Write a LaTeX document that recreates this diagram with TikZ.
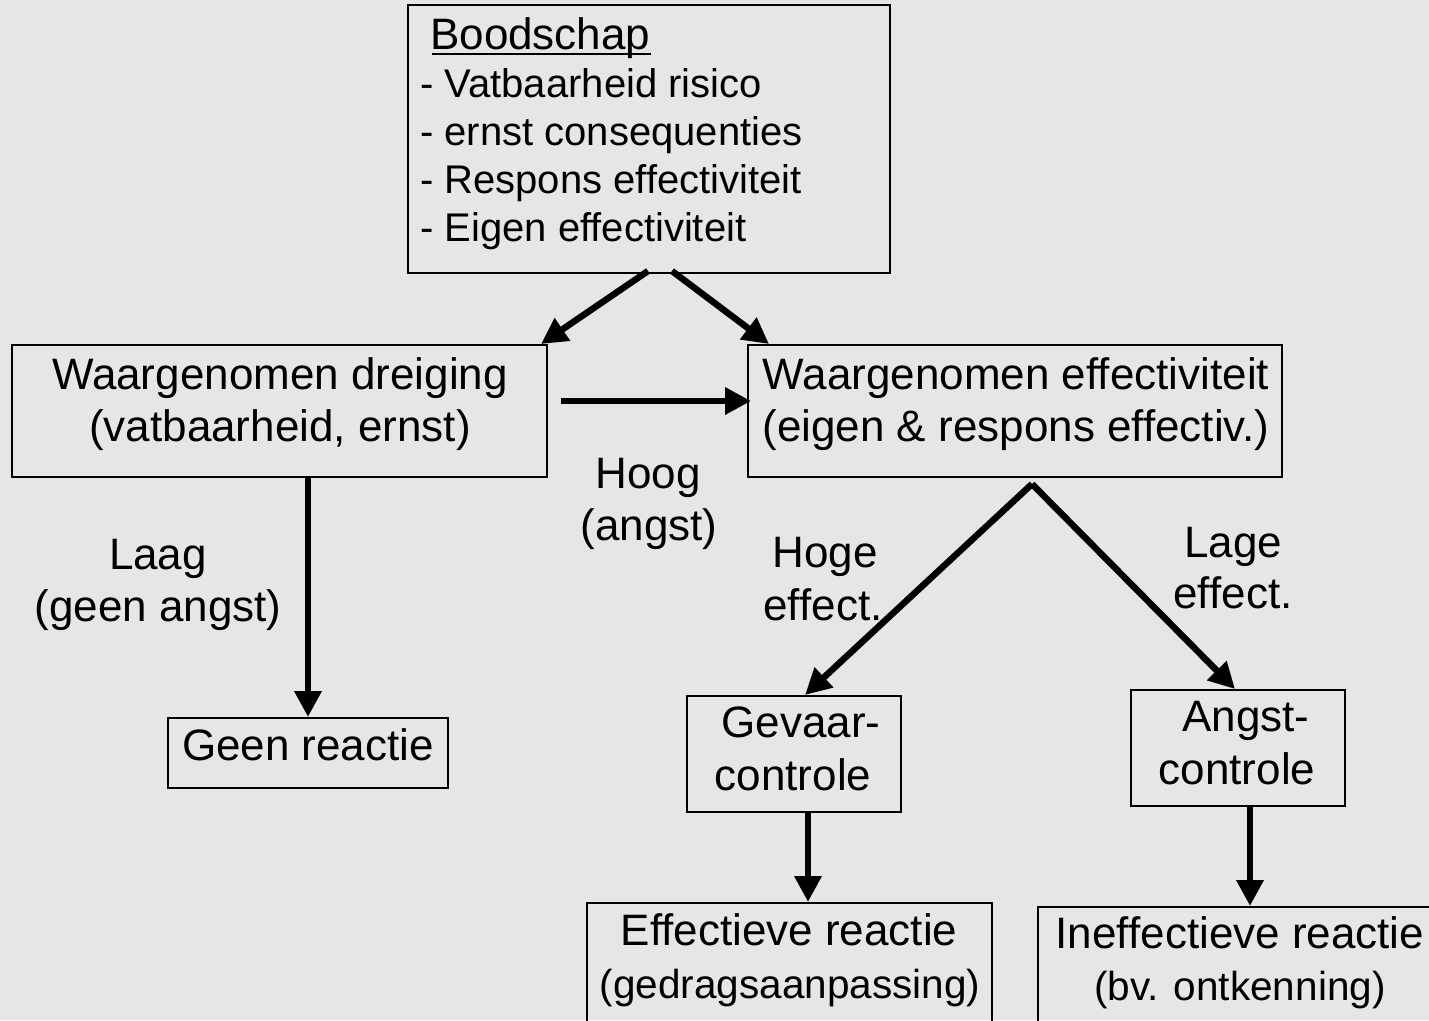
\documentclass[tikz,border=0pt]{standalone}
\usepackage{fontspec}
\setmainfont{Liberation Sans}
\usetikzlibrary{arrows.meta,calc}
\definecolor{bggray}{RGB}{230,230,230}
\begin{document}
\begin{tikzpicture}[x=1pt,y=-1pt,
  box/.style={draw=black, line width=2pt, rectangle, inner sep=0pt},
  lbl/.style={font=\fontsize{44}{52}\selectfont, inner sep=0pt, anchor=base},
  small/.style={font=\fontsize{40.5}{48}\selectfont},
  lst/.style={font=\fontsize{40}{48}\selectfont, inner sep=0pt, anchor=base west},
  arr/.style={line width=6.5pt, -{Triangle[length=26pt,width=26pt]}}]
\useasboundingbox (0,0) rectangle (1429,1020);
\fill[bggray] (0,0) rectangle (1429,1020);
\clip (0,0) rectangle (1429,1020);

% boxes
\node[box, minimum width=482, minimum height=268] (bood) at (649,139) {};
\node[box, minimum width=535, minimum height=132] (dreig) at (279.5,411) {};
\node[box, minimum width=534, minimum height=132] (eff) at (1015,411) {};
\node[box, minimum width=280, minimum height=70] (geen) at (308,753) {};
\node[box, minimum width=214, minimum height=116] (gev) at (794,754) {};
\node[box, minimum width=214, minimum height=116] (ang) at (1238,748) {};
\node[box, minimum width=405, minimum height=142] (effr) at (789.5,974) {};
\node[box, minimum width=407, minimum height=138] (ineff) at (1241.5,976) {};

% Boodschap text
\node[lst, font=\fontsize{44}{48}\selectfont] (t0) at (430,49) {Boodschap};
\draw[line width=2.5pt] ($(t0.base west)+(2,5)$) -- ($(t0.base east)+(0,5)$);
\node[lst] (t1) at (420,97) {- Vatbaarheid risico};
\node[lst] (t2) at (420,145) {- ernst consequenties};
\node[lst] (t3) at (420,193) {- Respons effectiviteit};
\node[lst] (t4) at (420,241) {- Eigen effectiviteit};

% box texts
\node[lbl] (d1) at (280,389) {Waargenomen dreiging};
\node[lbl] (d2) at (280,441) {(vatbaarheid, ernst)};
\node[lbl] (e1) at (1016,389) {Waargenomen effectiviteit};
\node[lbl] (e2) at (1016,441) {(eigen \& respons effectiv.)};
\node[lbl] (g1) at (308,760) {Geen reactie};
\node[lbl] (v1) at (801,737) {Gevaar-};
\node[lbl] (v2) at (793,790) {controle};
\node[lbl] (a1) at (1246,731) {Angst-};
\node[lbl] (a2) at (1237,784) {controle};
\node[lbl] (r1) at (789,945) {Effectieve reactie};
\node[lbl, small] (r2) at (790,998) {(gedragsaanpassing)};
\node[lbl] (i1) at (1240,948) {Ineffectieve reactie};
\node[lbl, small] (i2) at (1240,1000) {(bv. ontkenning)};

% free labels
\node[lbl] (h1) at (648,488) {Hoog};
\node[lbl] (h2) at (649,540) {(angst)};
\node[lbl] (l1) at (158,569) {Laag};
\node[lbl] (l2) at (158,621) {(geen angst)};
\node[lbl] (he1) at (825,567) {Hoge};
\node[lbl] (he2) at (823,620) {effect.};
\node[lbl] (le1) at (1233,557) {Lage};
\node[lbl] (le2) at (1233,608) {effect.};

% arrows
\draw[arr] ($(bood.south)+(-1,-3)$) -- ($(dreig.north east)+(-7,0)$);
\draw[arr] ($(bood.south)+(23,-3)$) -- ($(eff.north west)+(22,0)$);
\draw[arr] ($(dreig.east)+(13,-10)$) -- ($(eff.west)+(4,-10)$);
\draw[arr] (dreig.south -| geen.north) -- (geen.north);
\draw[arr] ($(eff.south)+(17,6)$) -- ($(gev.north)+(11,0)$);
\draw[arr] ($(eff.south)+(17,6)$) -- ($(ang.north)+(-3,0)$);
\draw[arr] ($(gev.south)+(14,0)$) -- ($(effr.north)+(18.5,0)$);
\draw[arr] ($(ang.south)+(12,0)$) -- ($(ineff.north)+(8.5,0)$);
\end{tikzpicture}
\end{document}
